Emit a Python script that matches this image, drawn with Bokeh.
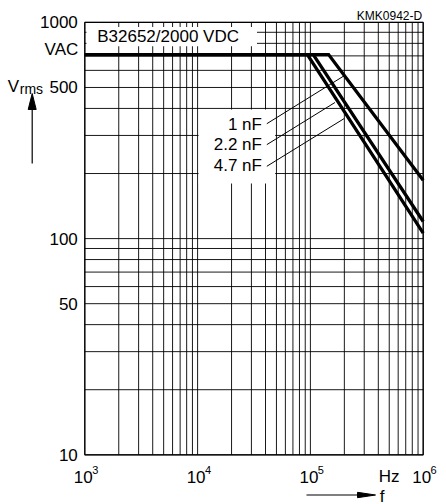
from bokeh.plotting import figure
from bokeh.core.properties import value
from bokeh.embed import file_html
from bokeh.resources import INLINE

FONT = "Liberation Sans"

# ---------------- data ----------------
capacitances = ["1 nF", "2.2 nF", "4.7 nF"]
f_start = 1e3
f_stop = 1e6
v_min, v_max = 10, 1000
v_rated_ac = 710                      # "VAC" level (flat part)
corner_freq = [145e3, 106e3, 94e3]    # Hz, knee of each curve
v_at_stop = [186, 120, 106]           # Vrms at 1 MHz

x_tick_exp = [3, 4, 5, 6]
y_tick_vals = [10, 50, 100, 500, 1000]
y_tick_labels = ["10", "50", "100", "500", "1000"]

x_grid_vals = [m * 10 ** e for e in (3, 4, 5) for m in range(1, 10)] + [1e6]
y_grid_vals = [m * 10 ** e for e in (1, 2) for m in range(1, 10)] + [1000]

title_text = "B32652/2000 VDC"

# label leaders (data coordinates)
leader_f0 = [41.1e3, 41.1e3, 41.1e3]
leader_v0 = [340, 272, 216]
leader_f1 = [203e3, 165e3, 199e3]
leader_v1 = [570, 426, 359]
label_f = 37.2e3
label_v = [338, 273.5, 218]

# white boxes behind texts
title_box = dict(left=1.035e3, right=33.6e3, bottom=776, top=951)
title_pos = (1.288e3, 865)
label_box = dict(left=1.02e4, right=48.7e3, bottom=180, top=395)

# ---------------- layout: plot area in window pixels ----------------
W, H = 446, 504
PX0, PX_DEC = 84.3, 112.8     # x pixel of 1e3, pixels per decade
PY0, PY_DEC = 454.3, 216.2    # y pixel of 10, pixels per decade


def fx(px):
    return 10 ** (3 + (px - PX0) / PX_DEC)


def vy(py):
    return 10 ** (1 + (PY0 - py) / PY_DEC)


p = figure(x_axis_type="log", y_axis_type="log",
           x_range=(fx(0), fx(W)), y_range=(vy(H), vy(0)),
           frame_width=W, frame_height=H, min_border=0,
           x_axis_location=None, y_axis_location=None,
           output_backend="svg", toolbar_location=None)
p.background_fill_color = "white"
p.border_fill_color = "white"
p.outline_line_color = None
p.grid.visible = False

txt = dict(text_font=value(FONT), text_color="black")

# grid
p.segment(x0=x_grid_vals, x1=x_grid_vals, y0=[v_min] * len(x_grid_vals),
          y1=[v_max] * len(x_grid_vals), line_color="black", line_width=1, line_alpha=0.9)
p.segment(x0=[f_start] * len(y_grid_vals), x1=[f_stop] * len(y_grid_vals),
          y0=y_grid_vals, y1=y_grid_vals, line_color="black", line_width=1, line_alpha=0.9)

# white boxes
p.quad(left=[title_box["left"]], right=[title_box["right"]],
       bottom=[title_box["bottom"]], top=[title_box["top"]],
       fill_color="white", line_color=None)
p.quad(left=[label_box["left"]], right=[label_box["right"]],
       bottom=[label_box["bottom"]], top=[label_box["top"]],
       fill_color="white", line_color=None)

# frame
p.quad(left=[f_start], right=[f_stop], bottom=[v_min], top=[v_max],
       fill_color=None, line_color="black", line_width=1.2)

# curves
for fc, ve in zip(corner_freq, v_at_stop):
    p.line([f_start, fc, f_stop], [v_rated_ac, v_rated_ac, ve],
           line_width=3.3, line_color="black", line_join="miter")

# leaders
p.segment(x0=leader_f0, y0=leader_v0, x1=leader_f1, y1=leader_v1,
          line_color="black", line_width=1)

p.text(x=[label_f] * 3, y=label_v, text=capacitances,
       text_align="right", text_baseline="middle", text_font_size="17px", **txt)
p.text(x=[title_pos[0]], y=[title_pos[1]], text=[title_text],
       text_align="left", text_baseline="middle", text_font_size="17px", **txt)

# y tick labels
p.text(x=[f_start] * len(y_tick_vals), y=y_tick_vals, text=y_tick_labels,
       x_offset=-7, text_align="right", text_baseline="middle",
       text_font_size="17px", **txt)
p.text(x=[f_start], y=[v_rated_ac], text=["VAC"], x_offset=-6.5, y_offset=-5.5,
       text_align="right", text_baseline="middle", text_font_size="17px", **txt)

# x tick labels
x_ticks = [10.0 ** e for e in x_tick_exp]
p.text(x=x_ticks, y=[v_min] * 4, text=["10"] * 4, x_offset=-1.5, y_offset=21.7,
       text_align="center", text_baseline="alphabetic", text_font_size="17px", **txt)
p.text(x=x_ticks, y=[v_min] * 4, text=[str(e) for e in x_tick_exp],
       x_offset=7.4, y_offset=15, text_align="left", text_baseline="alphabetic",
       text_font_size="11px", **txt)
p.text(x=[f_stop], y=[v_min], text=["Hz"], x_offset=-34, y_offset=21.7,
       text_align="center", text_baseline="alphabetic", text_font_size="17px", **txt)

# top-right code
p.text(x=[f_stop], y=[v_max], text=["KMK0942-D"], x_offset=-1, y_offset=-6,
       text_align="right", text_baseline="alphabetic", text_font_size="12px", **txt)

# V_rms axis title and arrow
p.text(x=[fx(7.3)], y=[vy(86)], text=["V"], text_align="left",
       text_baseline="alphabetic", text_font_size="17px", **txt)
p.text(x=[fx(19.3)], y=[vy(88)], text=["rms"], text_align="left",
       text_baseline="alphabetic", text_font_size="14px", **txt)
p.segment(x0=[fx(31.7)], x1=[fx(31.7)], y0=[vy(106)], y1=[vy(163)],
          line_color="black", line_width=1.2)
p.patch(x=[fx(31.7), fx(27.7), fx(35.7)], y=[vy(93), vy(109), vy(109)],
        fill_color="black", line_color="black", line_width=1)

# f axis title and arrow
p.segment(x0=[fx(306)], x1=[fx(358)], y0=[vy(494.5)], y1=[vy(494.5)],
          line_color="black", line_width=1.2)
p.patch(x=[fx(375), fx(357), fx(357)], y=[vy(494.5), vy(491.8), vy(497.2)],
        fill_color="black", line_color="black", line_width=1)
p.text(x=[fx(379.3)], y=[vy(495.5)], text=["f"], text_align="left",
       text_baseline="alphabetic", text_font_size="17px", **txt)

open("out.html", "w").write(file_html(p, INLINE))
